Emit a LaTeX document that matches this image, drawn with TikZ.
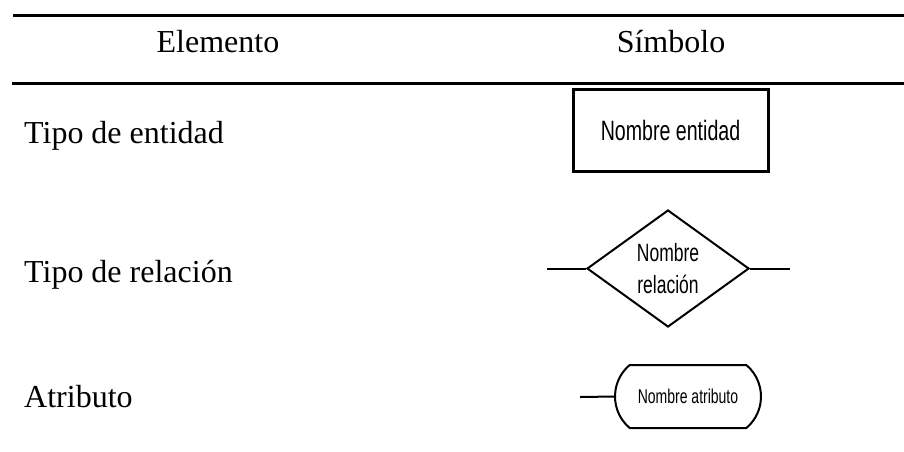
\documentclass[tikz,border=0pt]{standalone}
\usepackage{xcolor}
\usepackage{fontspec}
\setmainfont{Liberation Serif}
\newfontfamily\narrowsans[FakeStretch=0.7]{Liberation Sans}
\usepackage{tikz}
\usetikzlibrary{positioning, shapes.geometric, shapes.misc}

\tikzset{
  rule/.style={line width=3pt},
  header/.style={anchor=base, inner sep=0pt, font=\fontsize{32}{38}\selectfont},
  fila/.style={anchor=base west, inner sep=0pt, font=\fontsize{32}{38}\selectfont},
  entidad/.style={draw, line width=3pt, minimum width=195pt, minimum height=82pt, inner sep=0pt, font=\narrowsans\fontsize{28}{32}\selectfont},
  relacion/.style={draw, diamond, aspect=1.385, line width=2pt, minimum width=162pt, minimum height=117pt, inner sep=0pt, align=center, font=\narrowsans\fontsize{25}{32}\selectfont},
  atributo/.style={draw, rounded rectangle, rounded rectangle arc length=100, line width=2pt, minimum width=150pt, minimum height=63pt, inner sep=2pt, font=\narrowsans\fontsize{20}{24}\selectfont},
  enlace/.style={line width=2pt}
}

\begin{document}
\begin{tikzpicture}[x=1pt, y=-1pt]
			\useasboundingbox (0,0) rectangle (904,451);
			
			% reglas de la tabla
			\draw[rule] (13,15) -- (904,15);
			\draw[rule] (12,83) -- (904,83);
			
			\node[header] (elemento) at (218,52) {Elemento};
			\node[header] (simbolo) at (671,52) {Símbolo};
			
			% filas
			\node[fila] (filaentidad) at (24,143) {Tipo de entidad};
			\node[fila] (filarelacion) at (24,282) {Tipo de relación};
			\node[fila] (filaatributo) at (24,407) {Atributo};
			
			% simbolos
			\node[entidad] (entidad) at (670.5,130) {Nombre entidad};
			
			\node[relacion] (relacion) at (668,268.5) {Nombre\\relación};
			\coordinate (relizq) at (547,268.5);
			\coordinate (relder) at (790,268.5);
			\draw[enlace] (relizq) -- (relacion.west);
			\draw[enlace] (relacion.east) -- (relder);
			
			\node[atributo] (atributo) at (688,396.5) {Nombre atributo};
			\coordinate (atrizq) at (580,397);
			\draw[enlace] (atrizq) -- (atributo.west);
\end{tikzpicture}
\end{document}
